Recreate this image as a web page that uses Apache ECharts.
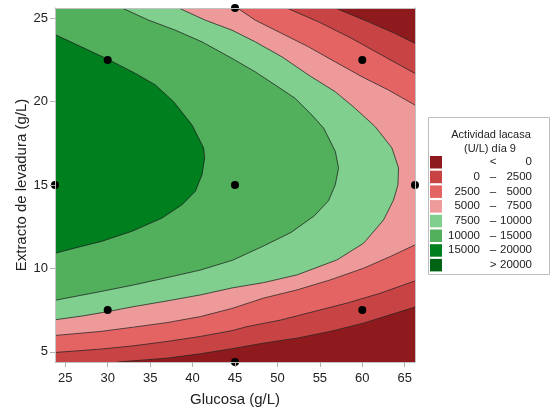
<!DOCTYPE html>
<html>
<head>
<meta charset="utf-8">
<script src="https://cdn.jsdelivr.net/npm/echarts@6/dist/echarts.min.js"></script>
<style>html,body{margin:0;padding:0;background:#fff}#c{width:555px;height:412px}</style>
</head>
<body>
<div id="c"></div>
<script>
// ---- axes ----
const xRange = [23.79, 66.21];
const yRange = [4.39, 25.61];
const xTicks = [25, 30, 35, 40, 45, 50, 55, 60, 65];
const yTicks = [5, 10, 15, 20, 25];
const xName = 'Glucosa (g/L)';
const yName = 'Extracto de levadura (g/L)';

// ---- legend ----
const legendTitle = ['Actividad lacasa', '(U/L) día 9'];
const legendLow  = ['', '0', '2500', '5000', '7500', '10000', '15000', ''];
const legendSep  = ['<', '–', '–', '–', '–', '–', '–', '>'];
const legendHigh = ['0', '2500', '5000', '7500', '10000', '15000', '20000', '20000'];
const levelColors = ['#8e1a1d', '#c84343', '#e46464', '#ee9a9a', '#80cf8f', '#52af5c', '#007f1f', '#006414'];

// ---- design points ----
const designX = [23.79, 30, 30, 45, 45, 45, 60, 60, 66.21];
const designY = [15, 22.5, 7.5, 25.61, 15, 4.39, 22.5, 7.5, 15];

// ---- contour lines, [glucosa, extracto] ----
const c0Upper = [[56.81,25.61],[60.74,24.78],[63.88,24.08],[66.21,23.49]];
const c0Lower = [[66.21,7.68],[63.29,7.22],[60.15,6.72],[56.22,6.22],[52.3,5.82],[48.37,5.52],[44.65,5.19],[40.91,4.88],[36.99,4.62],[34.0,4.5],[31.2,4.39]];
const c2500Upper = [[51.1,25.61],[54.85,24.78],[58.78,23.78],[62.31,22.78],[66.21,21.69]];
const c2500Lower = [[66.21,9.25],[62.11,8.51],[58.19,7.92],[54.26,7.41],[50.34,6.9],[46.41,6.51],[44.65,6.27],[40.91,5.92],[36.99,5.62],[33.06,5.36],[29.13,5.16],[23.79,4.96]];
const c5000Upper = [[45.27,25.61],[47.39,24.88],[50.54,24.08],[53.67,23.28],[56.81,22.38],[59.96,21.49],[63.09,20.69],[66.21,19.79]];
const c5000Lower = [[66.21,11.41],[63.29,10.71],[60.15,10.01],[56.22,9.31],[52.3,8.71],[48.37,8.22],[44.65,7.6],[40.91,7.11],[36.99,6.75],[33.06,6.48],[29.13,6.22],[23.79,5.98]];
const c7500 = [[38.36,25.61],[41.5,24.88],[44.65,24.28],[47.39,23.58],[50.54,22.68],[53.67,21.59],[56.81,20.59],[59.17,19.59],[61.53,18.49],[63.49,17.22],[64.27,16.02],[64.2,15.02],[63.68,14.1],[62.5,12.9],[60.15,11.51],[57.01,10.51],[52.3,9.61],[48.37,9.15],[44.65,8.83],[40.91,8.41],[36.99,8.05],[33.06,7.71],[29.99,7.41],[27.17,7.16],[23.79,6.92]];
const c10000 = [[31.69,25.61],[34.82,24.88],[37.97,24.28],[41.11,23.58],[44.65,22.59],[47.39,21.78],[49.75,20.99],[52.1,20.19],[54.07,19.19],[55.44,18.41],[56.82,17.02],[57.2,16.02],[56.82,15.02],[56.02,14.06],[54.36,13.16],[51.61,12.16],[48.47,11.37],[44.75,10.5],[40.91,9.9],[36.99,9.45],[33.06,9.01],[29.13,8.61],[23.79,8.09]];
const c15000 = [[23.79,24.02],[30.04,22.53],[33.26,21.69],[35.61,21.0],[37.77,19.99],[39.94,18.59],[41.3,17.22],[41.42,16.62],[41.11,15.62],[40.32,14.62],[38.76,13.82],[36.4,13.02],[32.87,12.23],[29.33,11.63],[26.19,11.23],[23.79,10.91]];

const TL = [xRange[0], yRange[1]];
const BL = [xRange[0], yRange[0]];
const regions = [
  {color: levelColors[1], curves: [c0Upper, c0Lower], corners: [BL, TL]},
  {color: levelColors[2], curves: [c2500Upper, c2500Lower], corners: [TL]},
  {color: levelColors[3], curves: [c5000Upper, c5000Lower], corners: [TL]},
  {color: levelColors[4], curves: [c7500], corners: [TL]},
  {color: levelColors[5], curves: [c10000], corners: [TL]},
  {color: levelColors[6], curves: [c15000], corners: []}
];

const FONT = '"Liberation Sans", Arial, sans-serif';

function regionSeries(region) {
  return {
    type: 'custom',
    coordinateSystem: 'cartesian2d',
    silent: true,
    clip: true,
    data: [[xRange[0], yRange[0]]],
    renderItem: function (params, api) {
      const pts = [];
      region.curves.forEach(c => c.forEach(p => pts.push(api.coord(p))));
      region.corners.forEach(p => pts.push(api.coord(p)));
      const children = [{type: 'polygon', shape: {points: pts}, style: {fill: region.color, stroke: region.color, lineWidth: 0.3}}];
      region.curves.forEach(c => children.push({
        type: 'polyline', shape: {points: c.map(p => api.coord(p))},
        style: {stroke: '#1c1c1c', lineWidth: 0.8, fill: null, opacity: 0.9}
      }));
      return {type: 'group', children: children};
    }
  };
}

const series = regions.map(regionSeries);
series.push({
  type: 'scatter',
  data: designX.map((x, i) => [x, designY[i]]),
  symbol: 'circle',
  symbolSize: 8,
  clip: false,
  z: 5,
  itemStyle: {color: '#000', opacity: 1},
  silent: true
});

// legend graphics
const lg = [];
lg.push({type: 'rect', shape: {x: 428.5, y: 117.5, width: 121, height: 157}, style: {fill: '#fff', stroke: '#bdbdbd', lineWidth: 1}});
lg.push({type: 'text', x: 491, y: 135, style: {text: legendTitle[0], fill: '#222', font: '11px ' + FONT, textAlign: 'center', textVerticalAlign: 'middle'}});
lg.push({type: 'text', x: 490, y: 149, style: {text: legendTitle[1], fill: '#222', font: '11px ' + FONT, textAlign: 'center', textVerticalAlign: 'middle'}});
levelColors.forEach((col, i) => {
  const cy = 162 + 14.7 * i;
  lg.push({type: 'rect', shape: {x: 430, y: cy - 6, width: 12, height: 12.5}, style: {fill: col}});
  if (legendLow[i]) lg.push({type: 'text', x: 480, y: cy, style: {text: legendLow[i], fill: '#222', font: '11.5px ' + FONT, textAlign: 'right', textVerticalAlign: 'middle'}});
  lg.push({type: 'text', x: 493, y: cy, style: {text: legendSep[i], fill: '#222', font: '11.5px ' + FONT, textAlign: 'center', textVerticalAlign: 'middle'}});
  lg.push({type: 'text', x: 532, y: cy, style: {text: legendHigh[i], fill: '#222', font: '11.5px ' + FONT, textAlign: 'right', textVerticalAlign: 'middle'}});
});

const axisCommon = {
  type: 'value',
  z: 10
};

const option = {
  animation: false,
  textStyle: {fontFamily: FONT},
  grid: {left: 55, right: 140, top: 8, bottom: 50, show: true, backgroundColor: levelColors[0], borderWidth: 0},
  xAxis: [
    Object.assign({}, axisCommon, {
      min: xRange[0], max: xRange[1], position: 'bottom',
      name: xName, nameLocation: 'middle', nameGap: 30, nameMoveOverlap: false,
      nameTextStyle: {fontSize: 15, color: '#222', fontFamily: FONT},
      axisLine: {show: true, lineStyle: {color: '#c2c2c2', width: 1}},
      axisTick: {show: true, length: 5, lineStyle: {color: '#b0b0b0'}, customValues: xTicks},
      axisLabel: {customValues: xTicks, fontSize: 13, color: '#222', margin: 10, fontFamily: FONT},
      splitLine: {show: false}
    }),
    Object.assign({}, axisCommon, {
      min: xRange[0], max: xRange[1], position: 'top',
      axisLine: {show: true, lineStyle: {color: '#c2c2c2', width: 1}},
      axisTick: {show: false}, axisLabel: {show: false}, splitLine: {show: false}
    })
  ],
  yAxis: [
    Object.assign({}, axisCommon, {
      min: yRange[0], max: yRange[1], position: 'left',
      name: yName, nameLocation: 'middle', nameGap: 26, nameRotate: 90, nameMoveOverlap: false,
      nameTextStyle: {fontSize: 15, color: '#222', fontFamily: FONT},
      axisLine: {show: true, lineStyle: {color: '#c2c2c2', width: 1}},
      axisTick: {show: true, length: 5, lineStyle: {color: '#b0b0b0'}, customValues: yTicks},
      axisLabel: {customValues: yTicks, fontSize: 13, color: '#222', margin: 7, fontFamily: FONT},
      splitLine: {show: false}
    }),
    Object.assign({}, axisCommon, {
      min: yRange[0], max: yRange[1], position: 'right',
      axisLine: {show: true, lineStyle: {color: '#c2c2c2', width: 1}},
      axisTick: {show: false}, axisLabel: {show: false}, splitLine: {show: false}
    })
  ],
  graphic: lg,
  series: series
};

const chart = echarts.init(document.getElementById('c'), null, {renderer: 'canvas'});
chart.setOption(option);
</script>
</body>
</html>
